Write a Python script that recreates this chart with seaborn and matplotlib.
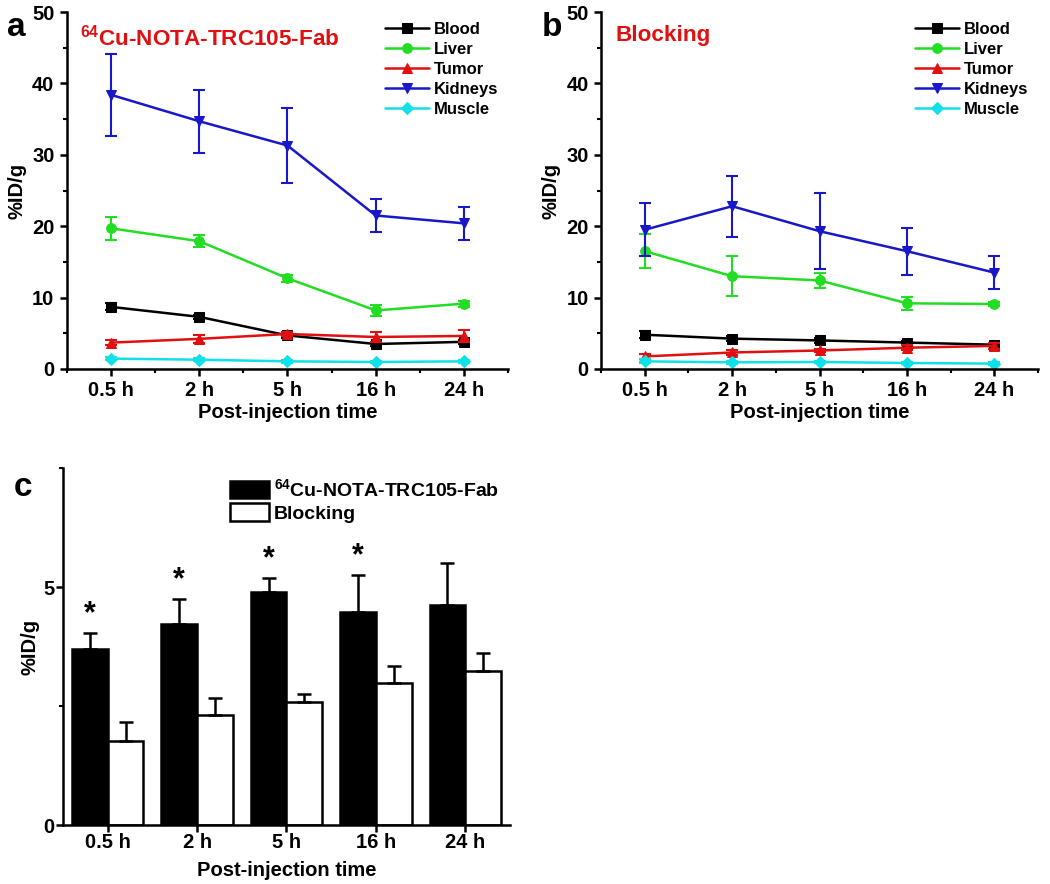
import numpy as np
import pandas as pd
import matplotlib
matplotlib.use("Agg")
import matplotlib.pyplot as plt
import seaborn as sns
from matplotlib.ticker import MultipleLocator
from matplotlib.patches import Patch

sns.set_theme(style="ticks")
plt.rcParams['font.family'] = ['Liberation Sans', 'DejaVu Sans']
plt.rcParams['font.weight'] = 'bold'
plt.rcParams['axes.labelweight'] = 'bold'
plt.rcParams['mathtext.fontset'] = 'custom'
plt.rcParams['mathtext.rm'] = 'Liberation Sans:bold'
plt.rcParams['mathtext.bf'] = 'Liberation Sans:bold'
plt.rcParams['mathtext.it'] = 'Liberation Sans:bold'
for k in ['text.color', 'axes.labelcolor', 'xtick.color', 'ytick.color', 'axes.edgecolor']:
    plt.rcParams[k] = 'black'

times = ["0.5 h", "2 h", "5 h", "16 h", "24 h"]
tissues = ["Blood", "Liver", "Tumor", "Kidneys", "Muscle"]

# Panel a: 64Cu-NOTA-TRC105-Fab
a_blood = [8.7, 7.3, 4.7, 3.5, 3.8]
a_blood_err = [0.5, 0.3, 0.3, 0.3, 0.3]
a_liver = [19.7, 17.9, 12.7, 8.2, 9.15]
a_liver_err = [1.6, 0.8, 0.5, 0.8, 0.4]
a_tumor = [3.69, 4.22, 4.90, 4.48, 4.63]
a_tumor_err = [0.35, 0.52, 0.28, 0.77, 0.88]
a_kidneys = [38.4, 34.7, 31.3, 21.5, 20.4]
a_kidneys_err = [5.7, 4.4, 5.3, 2.3, 2.3]
a_muscle = [1.45, 1.3, 1.07, 0.98, 1.07]
a_muscle_err = [0.2, 0.2, 0.2, 0.2, 0.2]

# Panel b: Blocking
b_blood = [4.8, 4.25, 4.0, 3.7, 3.4]
b_blood_err = [0.5, 0.3, 0.3, 0.2, 0.2]
b_liver = [16.5, 13.0, 12.4, 9.2, 9.1]
b_liver_err = [2.4, 2.8, 1.0, 0.9, 0.3]
b_tumor = [1.76, 2.31, 2.59, 2.98, 3.23]
b_tumor_err = [0.40, 0.36, 0.17, 0.36, 0.38]
b_kidneys = [19.5, 22.8, 19.3, 16.5, 13.5]
b_kidneys_err = [3.7, 4.3, 5.3, 3.3, 2.3]
b_muscle = [1.07, 0.93, 0.98, 0.84, 0.75]
b_muscle_err = [0.3, 0.2, 0.2, 0.2, 0.2]

groups = ["$^{64}$Cu-NOTA-TRC105-Fab", "Blocking"]
significant = [True, True, True, True, False]

colors = {"Blood": "#000000", "Liver": "#22DD22", "Tumor": "#E01010",
          "Kidneys": "#1818C8", "Muscle": "#10E0E8"}
markers = {"Blood": "s", "Liver": "o", "Tumor": "^", "Kidneys": "v", "Muscle": "D"}

TICK_FS = 14.5
LABEL_FS = 14.5

fig = plt.figure(figsize=(10.5, 8.84), dpi=100)
ax_a = fig.add_axes([0.0638, 0.5826, 0.420, 0.4038])
ax_b = fig.add_axes([0.5724, 0.5826, 0.4162, 0.4038])
ax_c = fig.add_axes([0.060, 0.0667, 0.4257, 0.4039])

def style_axes(ax, pad=4):
    for s in ["left", "bottom", "right", "top"]:
        ax.spines[s].set_linewidth(1.8)
        ax.spines[s].set_color("black")
    ax.spines["right"].set_visible(False)
    ax.spines["top"].set_visible(False)
    ax.tick_params(axis="both", which="major", direction="out", length=5, width=1.8,
                   labelsize=TICK_FS, pad=pad, colors="black")
    ax.tick_params(axis="both", which="minor", direction="out", length=3, width=1.5,
                   colors="black")
    for lab in ax.get_xticklabels() + ax.get_yticklabels():
        lab.set_fontweight("bold")

def line_panel(ax, data, title, letter, tx):
    xs = np.arange(len(times))
    for t in tissues:
        vals, errs = data[t]
        df = pd.DataFrame({"x": xs, "y": vals})
        sns.lineplot(data=df, x="x", y="y", ax=ax, color=colors[t], marker=markers[t],
                     markersize=7 if markers[t] != "D" else 6, markeredgecolor=colors[t],
                     linewidth=1.8, label=t, legend=False)
        ax.errorbar(xs, vals, yerr=errs, fmt="none", ecolor=colors[t], elinewidth=1.5,
                    capsize=4, capthick=1.5)
    ax.set_xlim(-0.5, 4.5)
    ax.set_ylim(0, 50)
    ax.set_xticks(xs)
    ax.set_xticklabels(times)
    ax.xaxis.set_minor_locator(MultipleLocator(0.5))
    ax.yaxis.set_major_locator(MultipleLocator(10))
    ax.yaxis.set_minor_locator(MultipleLocator(5))
    ax.set_xlabel("Post-injection time", fontsize=LABEL_FS, fontweight="bold", labelpad=2)
    ax.set_ylabel("%ID/g", fontsize=LABEL_FS, fontweight="bold", labelpad=4)
    style_axes(ax)
    ax.legend(loc="upper right", bbox_to_anchor=(1.0, 1.0), frameon=False,
              prop={"weight": "bold", "size": 12}, handlelength=2.6,
              handletextpad=0.3, labelspacing=0.3, borderaxespad=0.2)
    ax.text(tx, 0.965, title, transform=ax.transAxes, color="#E01010", fontsize=16.2,
            fontweight="bold", va="top", ha="left")
    ax.text(-0.135, 1.0, letter, transform=ax.transAxes, fontsize=24, fontweight="bold",
            va="top", ha="left")

line_panel(ax_a, {"Blood": (a_blood, a_blood_err), "Liver": (a_liver, a_liver_err),
                  "Tumor": (a_tumor, a_tumor_err), "Kidneys": (a_kidneys, a_kidneys_err),
                  "Muscle": (a_muscle, a_muscle_err)},
           "$^{64}$Cu-NOTA-TRC105-Fab", "a", 0.03)
line_panel(ax_b, {"Blood": (b_blood, b_blood_err), "Liver": (b_liver, b_liver_err),
                  "Tumor": (b_tumor, b_tumor_err), "Kidneys": (b_kidneys, b_kidneys_err),
                  "Muscle": (b_muscle, b_muscle_err)},
           "Blocking", "b", 0.032)

# Panel c: tumor uptake bars
dfc = pd.DataFrame({
    "time": times * 2,
    "value": a_tumor + b_tumor,
    "group": [groups[0]] * 5 + [groups[1]] * 5,
})
sns.barplot(data=dfc, x="time", y="value", hue="group", order=times, hue_order=groups,
            palette=["#000000", "#FFFFFF"], edgecolor="black", linewidth=1.8,
            width=0.8, errorbar=None, ax=ax_c, legend=False)
bars = [p for p in ax_c.patches][:10]
errs_all = a_tumor_err + b_tumor_err
vals_all = a_tumor + b_tumor
for i, p in enumerate(bars):
    cx = p.get_x() + p.get_width() / 2
    ax_c.errorbar([cx], [vals_all[i]], yerr=[[0], [errs_all[i]]], fmt="none",
                  ecolor="black", elinewidth=1.8, capsize=5, capthick=1.8)
for i in range(5):
    if significant[i]:
        p = bars[i]
        cx = p.get_x() + p.get_width() / 2
        ax_c.text(cx, a_tumor[i] + a_tumor_err[i] + 0.08, "*", ha="center", va="bottom",
                  fontsize=22, fontweight="bold")
ax_c.set_xlim(-0.5, 4.5)
ax_c.set_ylim(0, 7.5)
ax_c.yaxis.set_major_locator(MultipleLocator(5))
ax_c.yaxis.set_minor_locator(MultipleLocator(2.5))
ax_c.set_xlabel("Post-injection time", fontsize=LABEL_FS, fontweight="bold", labelpad=6)
ax_c.set_ylabel("%ID/g", fontsize=LABEL_FS, fontweight="bold", labelpad=3)
style_axes(ax_c, pad=1)
handles = [Patch(facecolor="black", edgecolor="black", linewidth=1.8),
           Patch(facecolor="white", edgecolor="black", linewidth=1.8)]
ax_c.legend(handles, groups, loc="upper right",
            bbox_to_anchor=(1.014, 1.02), frameon=False,
            prop={"weight": "bold", "size": 14}, handlelength=2.0, handleheight=1.0,
            handletextpad=0.25, labelspacing=0.15)
ax_c.text(-0.11, 0.99, "c", transform=ax_c.transAxes, fontsize=24, fontweight="bold",
          va="top", ha="left")

fig.savefig("out.png", dpi=100)
